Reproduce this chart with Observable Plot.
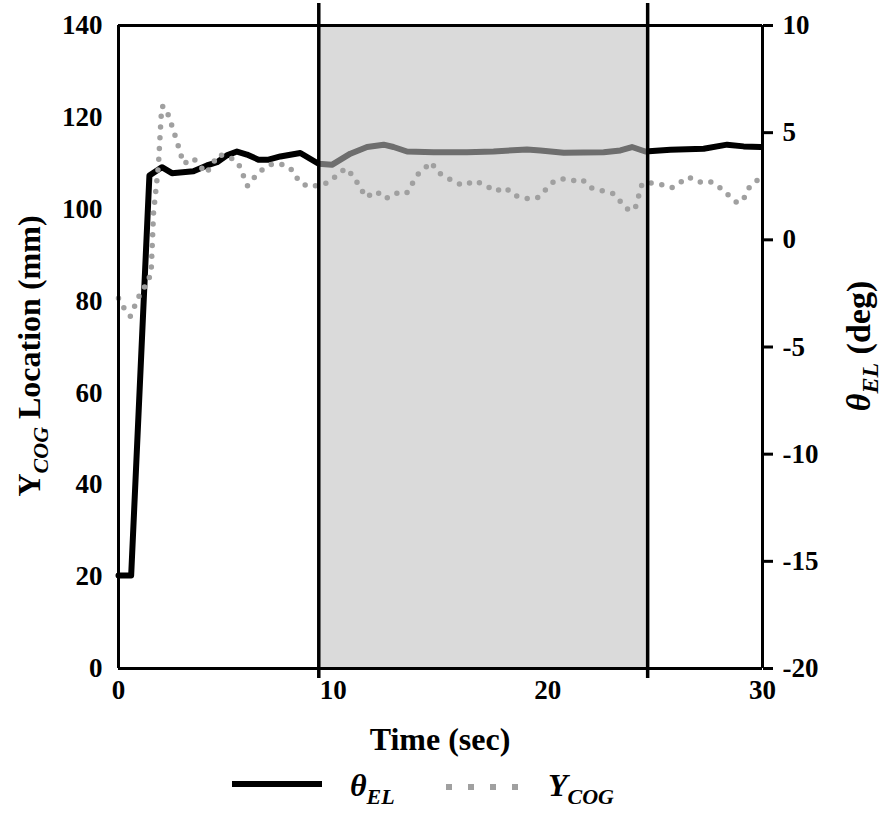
<!DOCTYPE html>
<html>
<head>
<meta charset="utf-8">
<script src="https://cdn.jsdelivr.net/npm/d3@7"></script>
<script src="https://cdn.jsdelivr.net/npm/@observablehq/plot@0.6"></script>
<style>
  body { margin: 0; background: #fff; }
  #chart svg { display: block; }
</style>
</head>
<body>
<div id="chart"></div>
<script>
// ---- data ----
const thetaT   = [0, 0.59, 1.44, 2.02, 2.49, 3.49, 4.12, 4.59, 5.05, 5.52, 5.98, 6.52, 6.99, 7.54, 8.47, 9.32, 9.94, 10.80, 11.58, 12.35, 12.81, 13.44, 14.68, 16.23, 17.47, 19.03, 19.65, 20.74, 22.60, 23.38, 23.92, 24.54, 25.71, 27.26, 28.35, 29.12, 29.90];
const thetaDeg = [-15.66, -15.66, 3.00, 3.39, 3.11, 3.20, 3.47, 3.62, 3.94, 4.12, 3.98, 3.74, 3.74, 3.89, 4.05, 3.55, 3.50, 4.02, 4.33, 4.44, 4.33, 4.12, 4.09, 4.09, 4.12, 4.22, 4.17, 4.06, 4.09, 4.17, 4.33, 4.12, 4.20, 4.25, 4.44, 4.36, 4.33];

const cogT  = [0.00, 0.28, 0.55, 0.78, 1.01, 1.32, 1.52, 1.63, 1.86, 1.98, 2.02, 2.18, 2.38, 2.72, 3.03, 3.49, 4.09, 4.66, 5.21, 5.59, 6.01, 6.34, 6.76, 7.19, 7.72, 8.13, 8.39, 8.81, 9.37, 9.86, 10.25, 10.60, 10.95, 11.53, 12.01, 12.44, 12.89, 13.41, 13.93, 14.57, 14.86, 15.74, 16.12, 16.59, 17.10, 17.55, 18.02, 18.44, 18.97, 19.50, 20.27, 20.66, 21.13, 21.59, 21.98, 23.04, 23.80, 24.08, 24.39, 24.78, 25.27, 25.79, 26.56, 27.03, 27.54, 28.01, 28.84, 29.16, 29.40, 29.81];
const cogMM = [80.6, 78.3, 76.7, 79.2, 81.6, 83.8, 86.1, 99.1, 109.5, 119.7, 122.4, 122.2, 119.7, 114.8, 109.9, 111.1, 107.8, 111.9, 111.3, 109.9, 105.1, 107.0, 108.9, 109.9, 109.7, 108.4, 106.2, 104.9, 105.2, 106.0, 107.8, 108.9, 107.1, 102.6, 103.9, 102.3, 103.5, 103.4, 107.5, 110.2, 108.1, 105.7, 105.2, 106.2, 105.2, 103.9, 104.7, 103.0, 102.3, 102.4, 106.0, 106.6, 106.2, 106.5, 104.7, 103.4, 99.6, 100.4, 105.5, 105.7, 105.4, 104.7, 107.0, 105.9, 106.1, 104.7, 101.3, 102.6, 104.9, 106.5];

const events = [9.33, 24.65];            // start / end of shaded interval
const xTicks = [0, 10, 20, 30];
const leftTicks = [0, 20, 40, 60, 80, 100, 120, 140];
const rightTicks = [-20, -15, -10, -5, 0, 5, 10];
const leftDomain = [0, 140];
const rightDomain = [-20, 10];

// map right-axis (deg) values onto the left (mm) scale
const toLeft = d => (d - rightDomain[0]) * (leftDomain[1] - leftDomain[0]) / (rightDomain[1] - rightDomain[0]) + leftDomain[0];
const toRight = v => (v - leftDomain[0]) * (rightDomain[1] - rightDomain[0]) / (leftDomain[1] - leftDomain[0]) + rightDomain[0];

const theta = thetaT.map((t, i) => ({t, v: toLeft(thetaDeg[i])}));
const cog = cogT.map((t, i) => ({t, v: cogMM[i]}));
const shade = [{x1: events[0], x2: events[1]}];

const font = "'Liberation Serif', 'Times New Roman', serif";

const plot = Plot.plot({
  width: 882,
  height: 760,
  marginLeft: 118,
  marginRight: 120,
  marginTop: 25,
  marginBottom: 92,
  style: {fontFamily: font, fontSize: "27px", fontWeight: "bold", color: "#000", background: "#fff", overflow: "visible"},
  x: {domain: [0, 30]},
  y: {domain: leftDomain},
  marks: [
    Plot.line(theta, {x: "t", y: "v", stroke: "#000", strokeWidth: 6, strokeLinejoin: "round"}),
    Plot.rect(shade, {x1: "x1", x2: "x2", y1: leftDomain[0], y2: leftDomain[1], fill: "#bfbfbf", fillOpacity: 0.575}),
    Plot.line(cog, {x: "t", y: "v", stroke: "#a0a0a0", strokeWidth: 5.5, strokeLinecap: "round", strokeDasharray: "0 10.8"}),
    Plot.ruleY([leftDomain[1]], {stroke: "#000", strokeWidth: 3}),
    Plot.ruleY([leftDomain[0]], {stroke: "#000", strokeWidth: 3}),
    Plot.ruleX([0, 30], {stroke: "#000", strokeWidth: 3}),
    Plot.ruleX(events, {y1: -2.2, y2: 144.8, stroke: "#000", strokeWidth: 3.5}),
    Plot.axisX({ticks: xTicks, tickSize: 0, tickPadding: 11, label: null}),
    Plot.axisY({anchor: "left", ticks: leftTicks, tickSize: 0, tickPadding: 16, label: null}),
    Plot.axisY({anchor: "right", ticks: rightTicks.map(toLeft), tickFormat: v => String(Math.round(toRight(v))), tickSize: 10, tickPadding: 10, strokeWidth: 3, label: null})
  ]
});
document.getElementById("chart").appendChild(plot);

// axis titles with subscripts
const svg = d3.select(plot);
svg.append("text")
  .attr("x", 440).attr("y", 750)
  .attr("text-anchor", "middle")
  .style("font-family", font).style("font-weight", "bold").style("font-size", "32px")
  .attr("fill", "#000")
  .text("Time (sec)");

const lt = svg.append("text")
  .attr("transform", "translate(40,356) rotate(-90)")
  .attr("text-anchor", "middle")
  .style("font-family", font).style("font-weight", "bold").style("font-size", "32px")
  .attr("fill", "#000");
lt.append("tspan").text("Y");
lt.append("tspan").attr("dy", 8).style("font-style", "italic").style("font-size", "22px").text("COG");
lt.append("tspan").attr("dy", -8).text(" Location (mm)");

const rt = svg.append("text")
  .attr("transform", "translate(870,346) rotate(-90)")
  .attr("text-anchor", "middle")
  .style("font-family", font).style("font-weight", "bold").style("font-size", "34px")
  .attr("fill", "#000");
rt.append("tspan").style("font-style", "italic").text("θ");
rt.append("tspan").attr("dy", 8).style("font-style", "italic").style("font-size", "24px").text("EL");
rt.append("tspan").attr("dy", -8).text(" (deg)");

// legend below
const leg = d3.select("#chart").append("svg")
  .attr("width", 882).attr("height", 56)
  .style("display", "block");
leg.append("line").attr("x1", 232).attr("x2", 322).attr("y1", 24).attr("y2", 24)
  .attr("stroke", "#000").attr("stroke-width", 6);
const l1 = leg.append("text").attr("x", 350).attr("y", 36)
  .style("font-family", font).style("font-weight", "bold").style("font-size", "32px").attr("fill", "#000");
l1.append("tspan").style("font-style", "italic").text("θ");
l1.append("tspan").attr("dy", 8).style("font-style", "italic").style("font-size", "22px").text("EL");
leg.append("line").attr("x1", 446).attr("x2", 520).attr("y1", 27).attr("y2", 27)
  .attr("stroke", "#a0a0a0").attr("stroke-width", 6).attr("stroke-dasharray", "6 16");
const l2 = leg.append("text").attr("x", 548).attr("y", 36)
  .style("font-family", font).style("font-weight", "bold").style("font-size", "32px").attr("fill", "#000");
l2.append("tspan").style("font-style", "italic").text("Y");
l2.append("tspan").attr("dy", 8).style("font-style", "italic").style("font-size", "22px").text("COG");
</script>
</body>
</html>
